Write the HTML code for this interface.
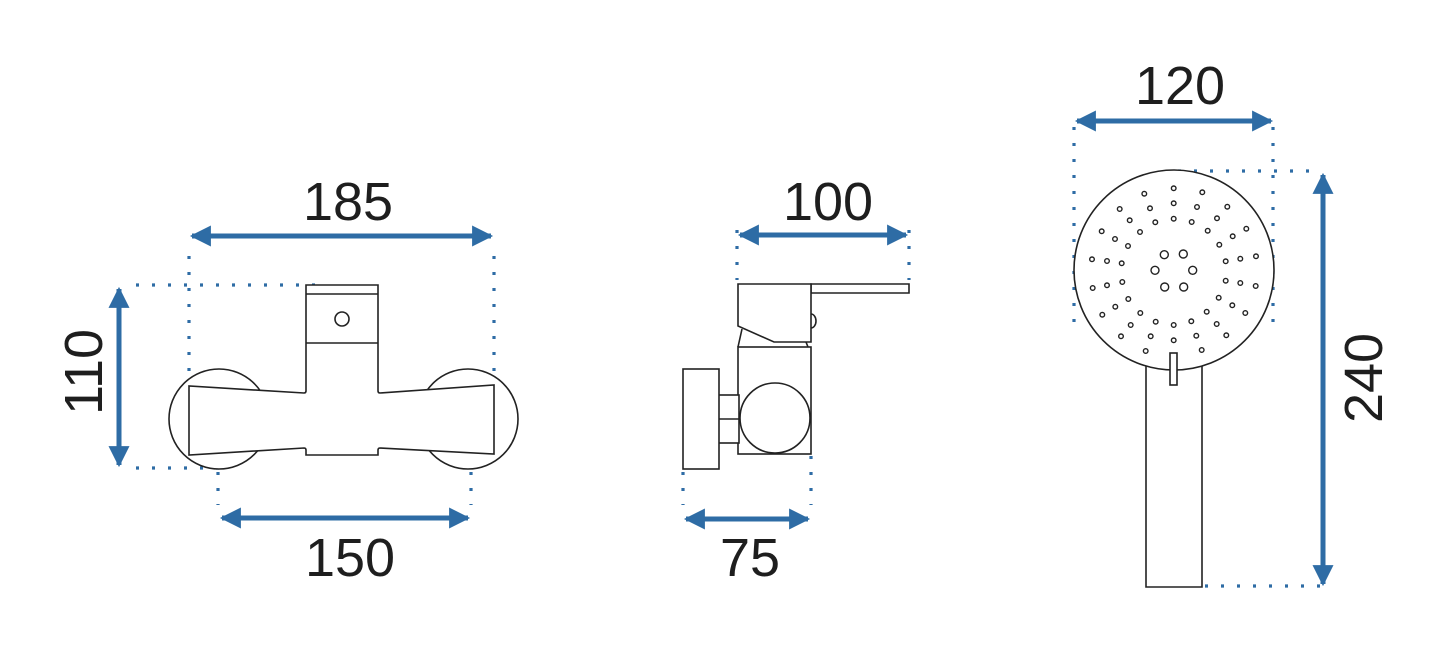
<!DOCTYPE html>
<html><head><meta charset="utf-8"><style>
html,body{margin:0;padding:0;background:#fff;}
svg{display:block;}
text{font-family:"Liberation Sans",sans-serif;font-size:54px;fill:#1e1e1e;}
</style></head><body>
<svg width="1445" height="670" viewBox="0 0 1445 670" xmlns="http://www.w3.org/2000/svg">
<defs>
<marker id="a" viewBox="0 0 10 10" refX="9" refY="5" markerWidth="5" markerHeight="4.2" orient="auto-start-reverse" markerUnits="strokeWidth"><path d="M0,0L10,5L0,10z" fill="#2e6ca5"/></marker>
</defs>
<g stroke="#2e6ca5" stroke-width="3.2" stroke-dasharray="3 13" fill="none">
<path d="M189,256V395M494,256V395M136,285H320M136,468H222M218,472V505M471,472V505"/>
<path d="M737,230V280M909,230V280M683,472V505M811,456V505"/>
<path d="M1074,127V325M1273,127V325M1178,171H1320M1205,586H1320"/>
</g>
<g stroke="#2e6ca5" stroke-width="5" fill="none" marker-start="url(#a)" marker-end="url(#a)">
<line x1="192" y1="236" x2="491" y2="236"/>
<line x1="119" y1="289" x2="119" y2="465"/>
<line x1="222" y1="518" x2="468" y2="518"/>
<line x1="740" y1="235" x2="906" y2="235"/>
<line x1="686" y1="519" x2="808" y2="519"/>
<line x1="1077" y1="121" x2="1271" y2="121"/>
<line x1="1323" y1="175" x2="1323" y2="584"/>
</g>
<g text-anchor="middle">
<text x="348" y="220">185</text>
<text x="350" y="576">150</text>
<text x="828" y="220">100</text>
<text x="750" y="576">75</text>
<text x="1180" y="104">120</text>
<text transform="translate(102,372) rotate(-90)">110</text>
<text transform="translate(1382,378) rotate(-90)">240</text>
</g>
<g stroke="#222" stroke-width="1.6" fill="#fff">
<circle cx="219" cy="419" r="50"/>
<circle cx="468" cy="419" r="50"/>
<path d="M306,285H378V391Q378,393 380,393L494,385V454L380,448Q378,448 378,450V455H306V450Q306,448 304,448L189,455V386L304,393Q306,393 306,391Z"/>
<path d="M306,294H378M306,343H378" fill="none"/>
<circle cx="342" cy="319" r="7"/>
<path d="M811,284H909V293H811Z"/>
<path d="M811,314A5,7 0 0 1 811,328"/>
<path d="M742,329L738,347M806,342L808,347" fill="none"/>
<path d="M738,284H811V342H774L738,326Z"/>
<rect x="738" y="347" width="73" height="107"/>
<circle cx="775" cy="418" r="35"/>
<rect x="718" y="395" width="21" height="48"/>
<path d="M718,419H739" fill="none"/>
<rect x="683" y="369" width="36" height="100"/>
<path d="M1146,365V587H1202V365"/>
<circle cx="1174" cy="270" r="100"/>
<g fill="none" stroke-width="1.4">
<circle cx="1164.3" cy="254.7" r="4"/><circle cx="1183.3" cy="254" r="4"/><circle cx="1155" cy="270.3" r="4"/><circle cx="1192.7" cy="270.3" r="4"/><circle cx="1164.7" cy="287" r="4"/><circle cx="1183.7" cy="287" r="4"/>
<circle cx="1144.3" cy="193.7" r="2.3"/><circle cx="1173.7" cy="188.3" r="2.3"/><circle cx="1202.3" cy="192.3" r="2.3"/><circle cx="1119.7" cy="209" r="2.3"/><circle cx="1150" cy="208.3" r="2.3"/><circle cx="1173.7" cy="203.3" r="2.3"/><circle cx="1197" cy="207" r="2.3"/><circle cx="1227.3" cy="206.7" r="2.3"/><circle cx="1129.7" cy="220.3" r="2.3"/><circle cx="1155.3" cy="222.3" r="2.3"/><circle cx="1173.7" cy="218.7" r="2.3"/><circle cx="1191.7" cy="222" r="2.3"/><circle cx="1217" cy="218.3" r="2.3"/><circle cx="1101.7" cy="231.3" r="2.3"/><circle cx="1140" cy="232" r="2.3"/><circle cx="1207.7" cy="230.7" r="2.3"/><circle cx="1246.3" cy="228.7" r="2.3"/><circle cx="1115" cy="239" r="2.3"/><circle cx="1128" cy="246" r="2.3"/><circle cx="1232.7" cy="236.3" r="2.3"/><circle cx="1219.3" cy="244.7" r="2.3"/><circle cx="1092" cy="259.3" r="2.3"/><circle cx="1107" cy="261" r="2.3"/><circle cx="1121.7" cy="263.3" r="2.3"/><circle cx="1225.7" cy="261.3" r="2.3"/><circle cx="1240.3" cy="258.7" r="2.3"/><circle cx="1256" cy="256.3" r="2.3"/><circle cx="1092.7" cy="288" r="2.3"/><circle cx="1107" cy="285.3" r="2.3"/><circle cx="1122.3" cy="282" r="2.3"/><circle cx="1225.7" cy="280.7" r="2.3"/><circle cx="1240.3" cy="283" r="2.3"/><circle cx="1255.7" cy="286" r="2.3"/><circle cx="1128.3" cy="299" r="2.3"/><circle cx="1218.7" cy="297.7" r="2.3"/><circle cx="1115.3" cy="306.7" r="2.3"/><circle cx="1232.3" cy="305.3" r="2.3"/><circle cx="1102.3" cy="314.7" r="2.3"/><circle cx="1140.3" cy="313" r="2.3"/><circle cx="1206.7" cy="311.7" r="2.3"/><circle cx="1245.3" cy="313" r="2.3"/><circle cx="1130.7" cy="325" r="2.3"/><circle cx="1155.7" cy="321.7" r="2.3"/><circle cx="1173.7" cy="325" r="2.3"/><circle cx="1191.3" cy="321.3" r="2.3"/><circle cx="1216.7" cy="324" r="2.3"/><circle cx="1121" cy="336.3" r="2.3"/><circle cx="1150.7" cy="336.3" r="2.3"/><circle cx="1173.7" cy="340.3" r="2.3"/><circle cx="1196.3" cy="335.7" r="2.3"/><circle cx="1226.3" cy="335.3" r="2.3"/><circle cx="1145.7" cy="351" r="2.3"/><circle cx="1201.7" cy="350" r="2.3"/>
</g>
<rect x="1170" y="353" width="7" height="32"/>
</g>
</svg>
</body></html>
